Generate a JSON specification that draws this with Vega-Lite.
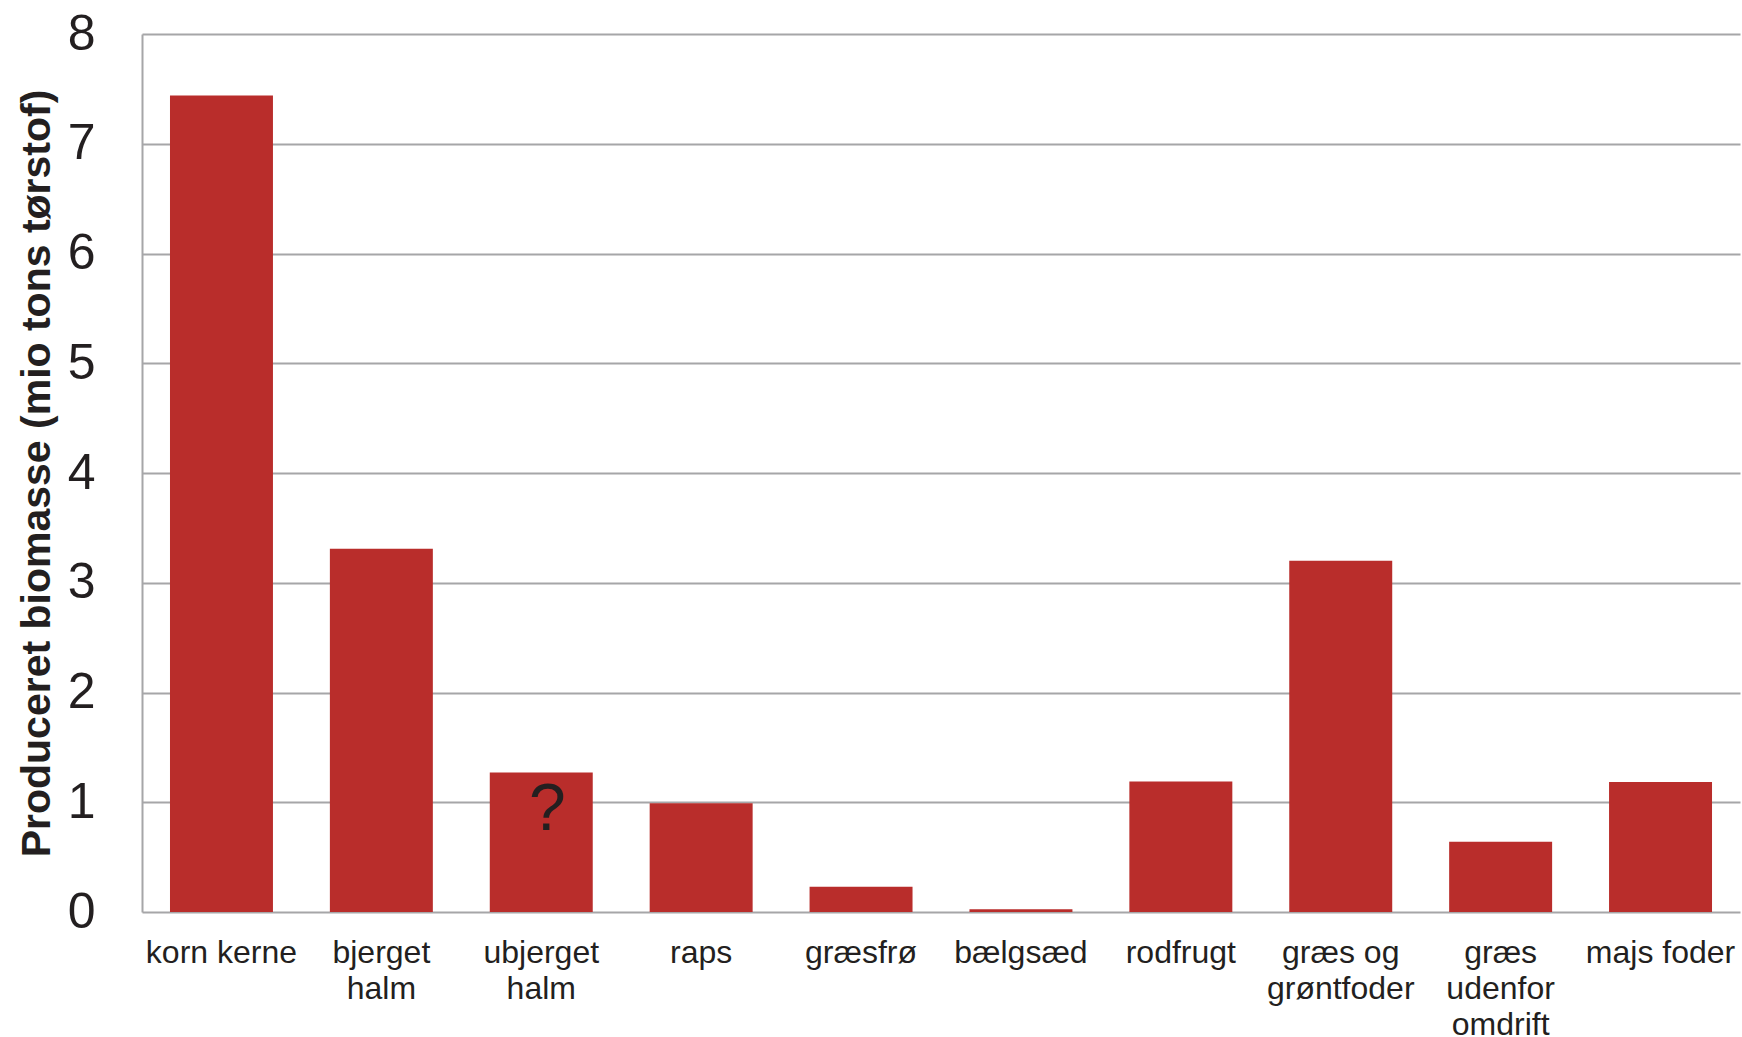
{
  "$schema": "https://vega.github.io/schema/vega-lite/v6.json",
  "autosize": "none",
  "width": 1598,
  "height": 878,
  "padding": {"left": 142, "top": 34, "right": 2, "bottom": 125},
  "background": "white",
  "config": {
    "view": {"stroke": null},
    "font": "Liberation Sans"
  },
  "data": {
    "values": [
      {"kategori": "korn kerne", "biomasse": 7.44},
      {"kategori": "bjerget halm", "biomasse": 3.31},
      {"kategori": "ubjerget halm", "biomasse": 1.27, "note": "?"},
      {"kategori": "raps", "biomasse": 0.99},
      {"kategori": "græsfrø", "biomasse": 0.23},
      {"kategori": "bælgsæd", "biomasse": 0.025},
      {"kategori": "rodfrugt", "biomasse": 1.19},
      {"kategori": "græs og grøntfoder", "biomasse": 3.2},
      {"kategori": "græs udenfor omdrift", "biomasse": 0.64},
      {"kategori": "majs foder", "biomasse": 1.185}
    ]
  },
  "encoding": {
    "x": {
      "field": "kategori",
      "type": "nominal",
      "sort": null,
      "scale": {"paddingInner": 0.356, "paddingOuter": 0.175},
      "axis": {
        "title": null,
        "labelAngle": 0,
        "labelFont": "Liberation Sans Narrow, Liberation Sans",
        "labelFontSize": 32,
        "labelColor": "#231f20",
        "labelLineHeight": 36,
        "labelPadding": 25,
        "ticks": false,
        "domain": false,
        "grid": false,
        "labelExpr": "datum.value == 'bjerget halm' ? ['bjerget','halm'] : datum.value == 'ubjerget halm' ? ['ubjerget','halm'] : datum.value == 'græs og grøntfoder' ? ['græs og','grøntfoder'] : datum.value == 'græs udenfor omdrift' ? ['græs','udenfor','omdrift'] : datum.value"
      }
    },
    "y": {
      "field": "biomasse",
      "type": "quantitative",
      "scale": {"domain": [0, 8], "nice": false},
      "axis": {
        "title": "Produceret biomasse (mio tons tørstof)",
        "titleFont": "Liberation Sans",
        "titleFontSize": 41,
        "titleFontWeight": "bold",
        "titleColor": "#231f20",
        "titleAngle": -90,
        "titleBaseline": "middle",
        "titleAlign": "center",
        "titleX": -105,
        "titleY": 439,
        "values": [0, 1, 2, 3, 4, 5, 6, 7, 8],
        "labelFont": "Liberation Sans",
        "labelFontSize": 50,
        "labelColor": "#231f20",
        "labelPadding": 47,
        "ticks": false,
        "domain": true,
        "domainColor": "#a6a6a8",
        "domainWidth": 2,
        "grid": true,
        "gridColor": "#a6a6a8",
        "gridWidth": 2
      }
    }
  },
  "layer": [
    {
      "mark": {"type": "bar", "color": "#b92d2b"}
    },
    {
      "transform": [{"filter": "datum.note != null"}],
      "mark": {
        "type": "text",
        "baseline": "alphabetic",
        "align": "center",
        "dy": 57,
        "dx": 6,
        "fontSize": 66,
        "font": "Liberation Sans",
        "color": "#231f20"
      },
      "encoding": {"text": {"field": "note"}}
    }
  ]
}
